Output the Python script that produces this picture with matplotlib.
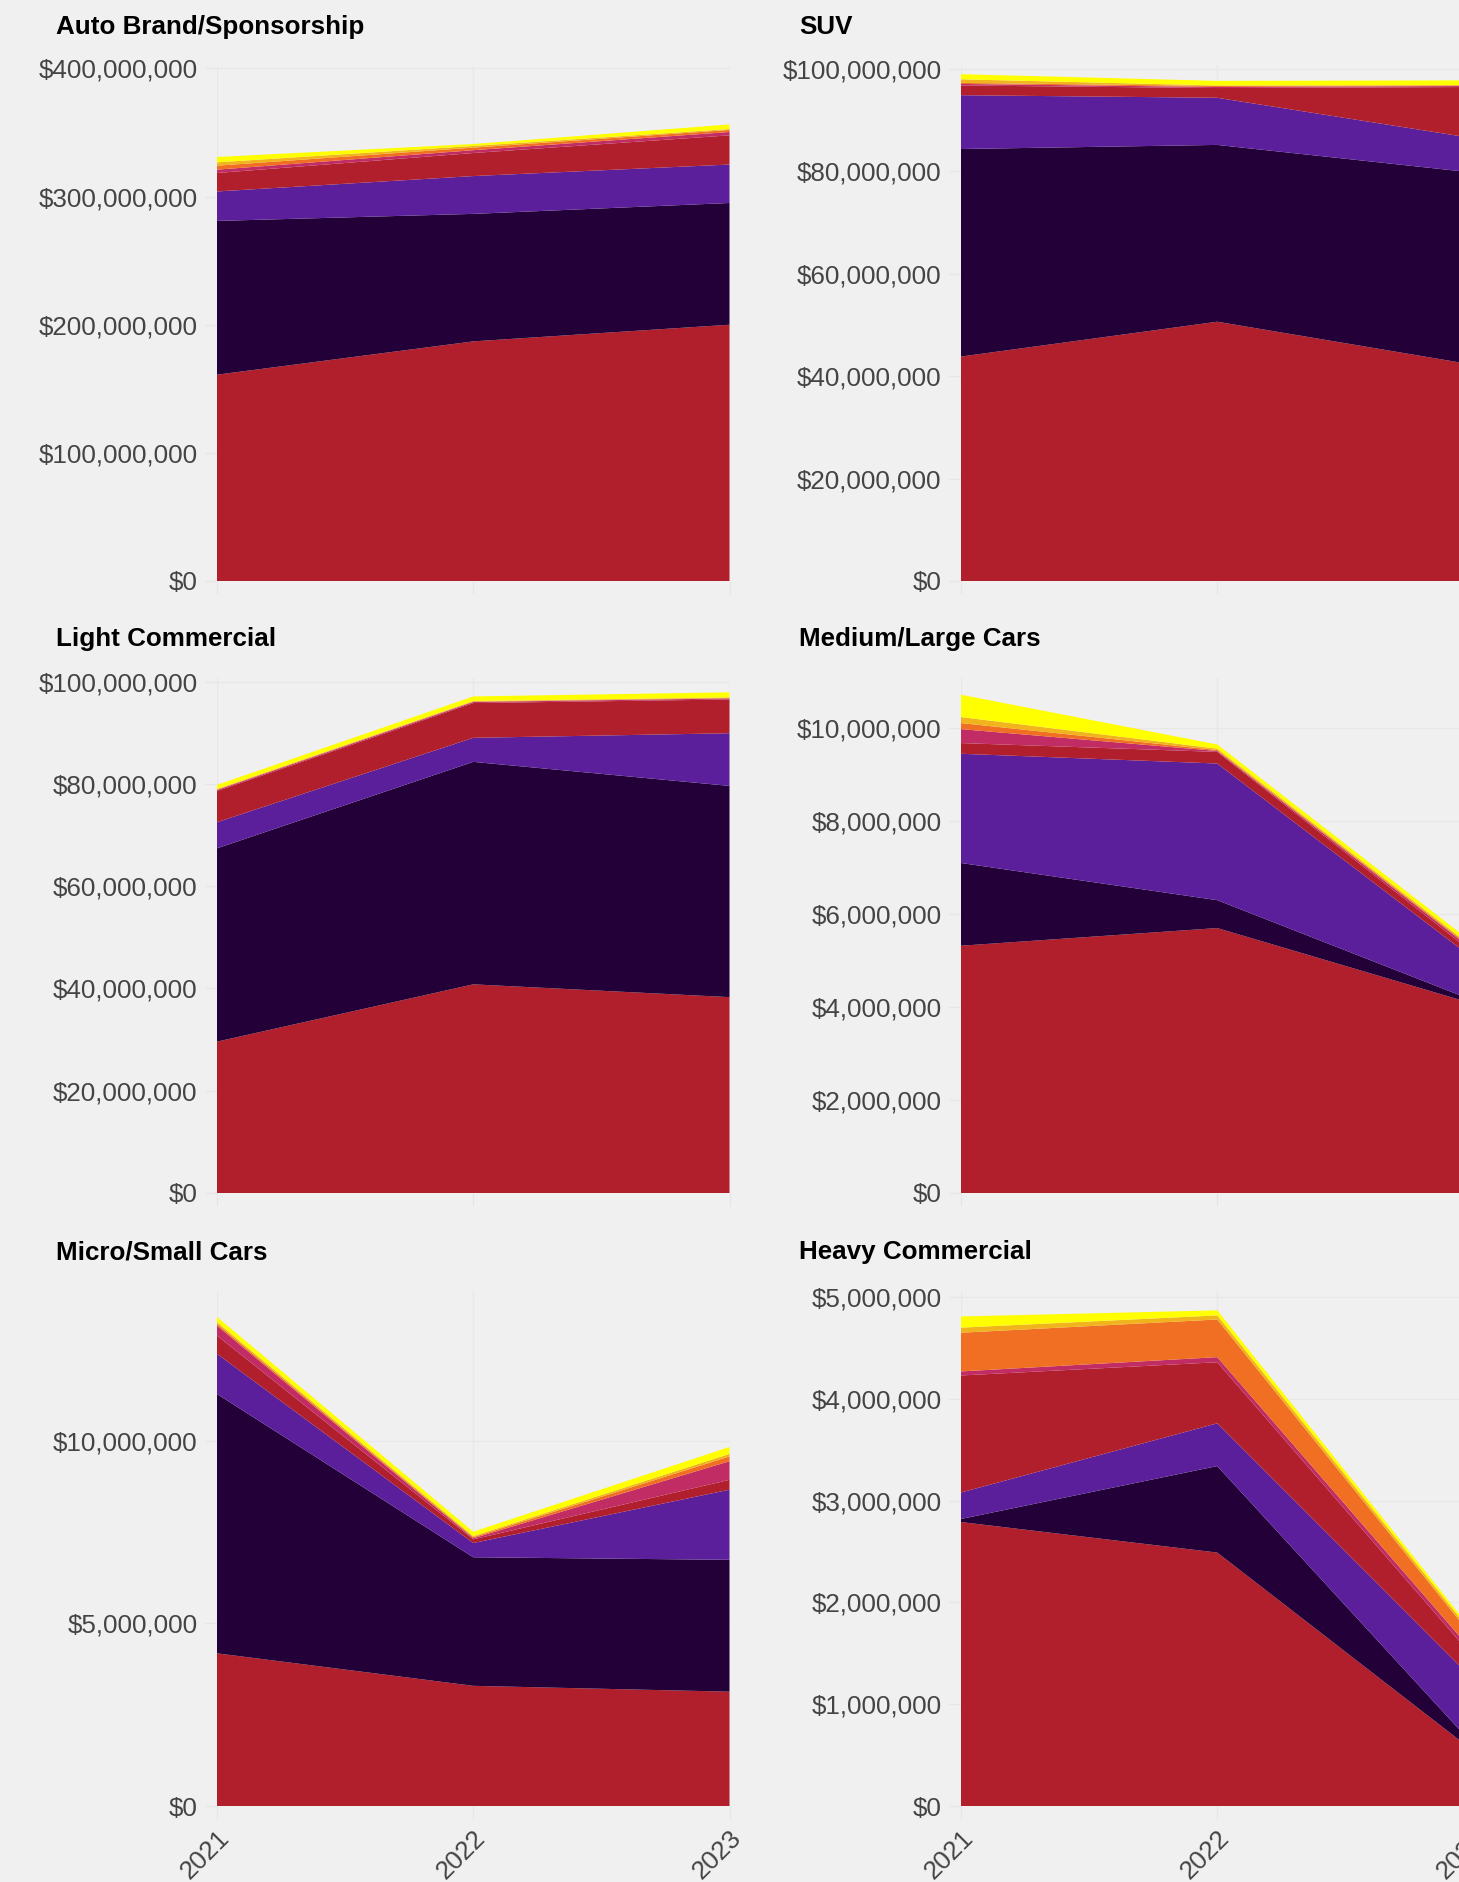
import numpy as np
import matplotlib
matplotlib.use("Agg")
import matplotlib.pyplot as plt
from matplotlib.ticker import MultipleLocator, FuncFormatter

plt.rcParams['font.family'] = ['Liberation Sans', 'DejaVu Sans']

# Data (values in millions of $), layers from bottom to top
years = [2021, 2022, 2023]
layer_colors = ['#b21f2c', '#240038', '#5c1f9b', '#b21f2c',
                '#c22c64', '#f06f22', '#f2b41c', '#ffff00']

titles = ['Auto Brand/Sponsorship', 'SUV', 'Light Commercial',
          'Medium/Large Cars', 'Micro/Small Cars', 'Heavy Commercial']

auto_brand = [[161, 187, 200], [120, 99.5, 95], [23, 29.5, 30], [14.4, 18, 22.8],
              [2.6, 2.2, 2.6], [3.1, 2.0, 1.6], [2.6, 1.3, 0.7], [4.2, 1.5, 3.6]]
suv = [[43.8, 50.6, 42.2], [40.5, 34.5, 37.5], [10.5, 9.2, 6.7], [1.9, 1.9, 10.0],
       [0.3, 0.2, 0.2], [0.2, 0.2, 0.1], [0.7, 0.1, 0.1], [1.0, 0.9, 0.9]]
light_commercial = [[29.6, 40.8, 38.3], [37.8, 43.5, 41.3], [5.1, 4.7, 10.3], [6.1, 6.8, 6.6],
                    [0.2, 0.2, 0.2], [0.1, 0.1, 0.1], [0.1, 0.1, 0.1], [0.8, 0.9, 1.0]]
medium_large = [[5.32, 5.70, 4.07], [1.78, 0.60, 0.07], [2.35, 2.94, 0.90], [0.23, 0.25, 0.12],
                [0.30, 0.02, 0.06], [0.13, 0.02, 0.03], [0.13, 0.03, 0.03], [0.48, 0.09, 0.09]]
micro_small = [[4.18, 3.29, 3.13], [7.1, 3.52, 3.61], [1.1, 0.39, 1.92], [0.5, 0.10, 0.27],
               [0.27, 0.03, 0.51], [0.05, 0.03, 0.13], [0.05, 0.03, 0.07], [0.14, 0.12, 0.19]]
heavy_commercial = [[2.79, 2.49, 0.54], [0.03, 0.85, 0.06], [0.26, 0.42, 0.64], [1.15, 0.60, 0.22],
                    [0.04, 0.05, 0.05], [0.38, 0.37, 0.14], [0.05, 0.04, 0.03], [0.11, 0.05, 0.03]]

panels = [auto_brand, suv, light_commercial, medium_large, micro_small, heavy_commercial]
y_tops = [401.9, 100.5, 100.7, 11.08, 14.1, 5.06]
y_steps = [100, 20, 20, 2, 5, 1]

W, H = 1459, 1882
bg = '#f0f0f0'
fig = plt.figure(figsize=(W / 100, H / 100), dpi=100, facecolor=bg)

col_x = [217, 961]
ax_w = 512.5
row_bottom = [581, 1193, 1806]
ax_h = 515
title_y = [27, 639, 1252]

for i, data in enumerate(panels):
    r, c = divmod(i, 2)
    left = col_x[c] / W
    bottom = 1 - row_bottom[r] / H
    ax = fig.add_axes([left, bottom, ax_w / W, ax_h / H], facecolor=bg)
    vals = [np.array(v) * 1e6 for v in data]
    ax.stackplot(years, *vals, colors=layer_colors, linewidth=0, zorder=2)
    ax.set_xlim(2021, 2023)
    ax.set_ylim(0, y_tops[i] * 1e6)
    ax.yaxis.set_major_locator(MultipleLocator(y_steps[i] * 1e6))
    ax.yaxis.set_major_formatter(FuncFormatter(lambda v, p: f"${v:,.0f}"))
    ax.set_xticks(years)
    ax.set_axisbelow(True)
    ax.grid(True, color='#e8e8e8', linewidth=1)
    for s in ax.spines.values():
        s.set_visible(False)
    ax.tick_params(axis='both', length=9, width=1, color='#e6e6e6',
                   labelsize=18.7, labelcolor='#444444', pad=5)
    if r == 2:
        ax.set_xticklabels([str(y) for y in years], rotation=45, ha='right',
                           va='top', rotation_mode='anchor')
    else:
        ax.set_xticklabels([])
    fig.text((56 if c == 0 else 799) / W, 1 - title_y[r] / H, titles[i],
             fontsize=18.7, fontweight='bold', color='black', ha='left', va='center')

fig.savefig('out.png', dpi=100, facecolor=bg)
